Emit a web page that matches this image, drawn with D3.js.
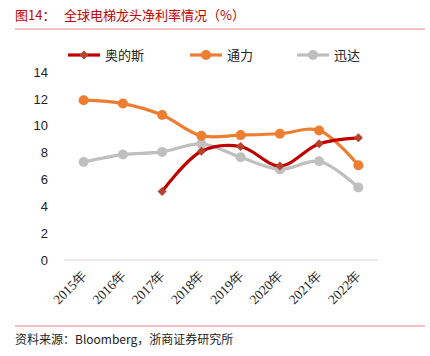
<!DOCTYPE html>
<html><head><meta charset="utf-8">
<script src="https://cdn.jsdelivr.net/npm/d3@7"></script>
<style>body{margin:0;background:#fff}svg{display:block}</style>
</head><body>
<svg id="c" width="430" height="356"></svg>
<script>
const categories = ["2015年","2016年","2017年","2018年","2019年","2020年","2021年","2022年"];
const otis = [null,null,5.1,8.1,8.45,7.0,8.65,9.1];
const kone = [11.9,11.65,10.8,9.25,9.3,9.4,9.65,7.05];
const schindler = [7.3,7.85,8.05,8.65,7.65,6.75,7.35,5.4];
const yTicks = [0,2,4,6,8,10,12,14];
const seriesNames = ["奥的斯","通力","迅达"];

const svg = d3.select("#c");
const cjk = "'Noto Sans CJK SC','Noto Sans',sans-serif";
const x = d3.scaleBand().domain(categories).range([64,378]);
const y = d3.scaleLinear().domain([0,14]).range([260,72]);

// title
svg.append("text").attr("x",15).attr("y",20).attr("fill","#c00000")
  .attr("font-family",cjk).attr("font-size",13).text("图14：");
svg.append("text").attr("x",64).attr("y",20).attr("fill","#c00000")
  .attr("font-family",cjk).attr("font-size",13).text("全球电梯龙头净利率情况（%）");
svg.append("line").attr("x1",15).attr("x2",425).attr("y1",29).attr("y2",29)
  .attr("stroke","#e8888a").attr("stroke-width",1.2);

// y axis labels
const ya = svg.append("g").attr("transform","translate(50,0)")
  .call(d3.axisLeft(y).tickValues(yTicks).tickSize(0).tickPadding(2));
ya.select(".domain").remove();
ya.selectAll("text").attr("font-family","'Liberation Sans',Arial,sans-serif").attr("font-size",13).attr("fill","#222");

// baseline
svg.append("line").attr("x1",64).attr("x2",378).attr("y1",y(0)).attr("y2",y(0))
  .attr("stroke","#d9d9d9").attr("stroke-width",1);

// x labels
svg.append("g").selectAll("text").data(categories).join("text")
  .attr("transform",d=>`translate(${x(d)+x.bandwidth()/2+4},${276}) rotate(-45)`)
  .attr("text-anchor","end").attr("font-family","'Liberation Serif','DejaVu Serif',serif")
  .attr("font-size",13.5).attr("fill","#222").text(d=>d);

const cx = d => x(d)+x.bandwidth()/2;
const line = d3.line().defined(d=>d[1]!=null).x(d=>cx(d[0])).y(d=>y(d[1])).curve(d3.curveCatmullRom.alpha(0.5));

function drawSeries(vals, color, mcolor, marker){
  const pts = categories.map((c,i)=>[c,vals[i]]);
  svg.append("path").datum(pts).attr("d",line).attr("fill","none")
    .attr("stroke",color).attr("stroke-width",3.2).attr("stroke-linejoin","round");
  const valid = pts.filter(d=>d[1]!=null);
  if(marker==="circle"){
    svg.append("g").selectAll("circle").data(valid).join("circle")
      .attr("cx",d=>cx(d[0])).attr("cy",d=>y(d[1])).attr("r",5).attr("fill",mcolor);
  } else {
    svg.append("g").selectAll("path").data(valid).join("path")
      .attr("d",d3.symbol(d3.symbolSquare,40)())
      .attr("transform",d=>`translate(${cx(d[0])},${y(d[1])}) rotate(45)`)
      .attr("fill",mcolor);
  }
}
drawSeries(schindler,"#bfbfbf","#bfbfbf","circle");
drawSeries(kone,"#ed7d31","#ed7d31","circle");
drawSeries(otis,"#c00000","#b5432d","diamond");

// legend
const leg = [
  {name:seriesNames[0],x1:68,color:"#c00000",mc:"#b5432d",m:"diamond"},
  {name:seriesNames[1],x1:190,color:"#ed7d31",mc:"#ed7d31",m:"circle"},
  {name:seriesNames[2],x1:297,color:"#bfbfbf",mc:"#bfbfbf",m:"circle"}];
leg.forEach(l=>{
  svg.append("line").attr("x1",l.x1).attr("x2",l.x1+32).attr("y1",55).attr("y2",55)
    .attr("stroke",l.color).attr("stroke-width",3.2);
  if(l.m==="circle") svg.append("circle").attr("cx",l.x1+16).attr("cy",55).attr("r",5).attr("fill",l.mc);
  else svg.append("path").attr("d",d3.symbol(d3.symbolSquare,40)()).attr("transform",`translate(${l.x1+16},55) rotate(45)`).attr("fill",l.mc);
  svg.append("text").attr("x",l.x1+37).attr("y",60).attr("font-family",cjk).attr("font-size",13)
    .attr("fill","#222").text(l.name);
});

// footer
svg.append("line").attr("x1",15).attr("x2",425).attr("y1",326).attr("y2",326)
  .attr("stroke","#e8888a").attr("stroke-width",1.2);
svg.append("text").attr("x",15).attr("y",344).attr("font-family",cjk).attr("font-size",12)
  .attr("fill","#222").text("资料来源：Bloomberg，浙商证券研究所");
</script>
</body></html>
